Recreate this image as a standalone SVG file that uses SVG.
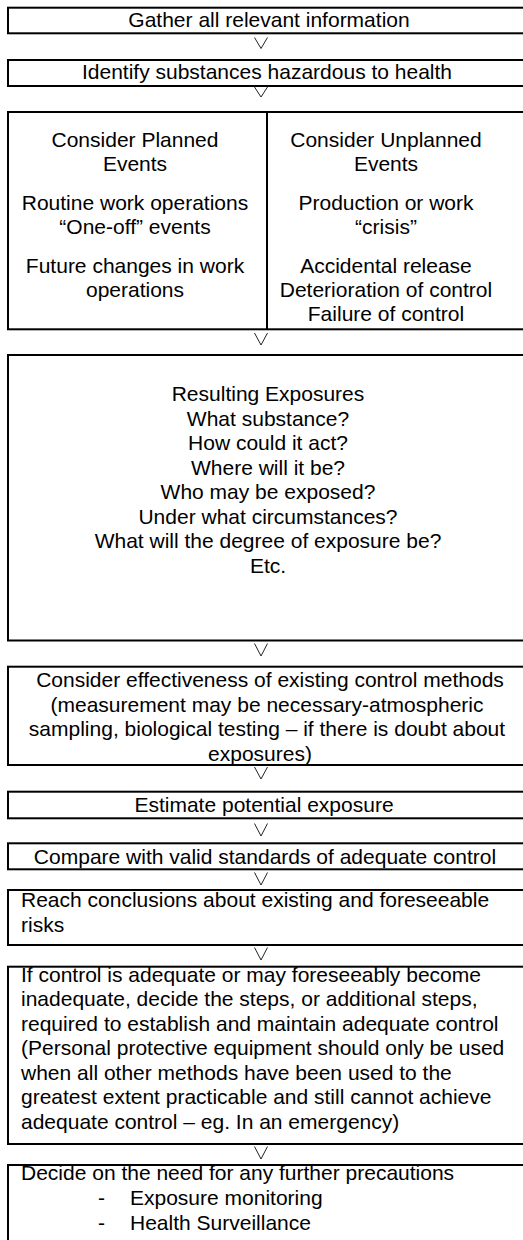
<svg xmlns="http://www.w3.org/2000/svg" width="523" height="1240" viewBox="0 0 523 1240">
<style>
.box{fill:#fff;stroke:#000;stroke-width:2}
.div{stroke:#000;stroke-width:2}
.c{stroke:#222;stroke-width:1;fill:none}
text{font-family:"Liberation Sans",Arial,sans-serif;font-size:21px;fill:#000}
.m{text-anchor:middle}
</style>
<rect width="523" height="1240" fill="#fff"/>
<g id="n1"><rect class="box" x="8" y="7.7" width="525" height="25.6"/><text class="m" x="269" y="27">Gather all relevant information</text></g>
<g id="n2"><rect class="box" x="8" y="60" width="525" height="26"/><text class="m" x="267" y="79">Identify substances hazardous to health</text></g>
<g id="n3"><rect class="box" x="8" y="112" width="525" height="217.3"/><line class="div" x1="267" y1="112" x2="267" y2="329.3"/>
<text class="m" x="135"><tspan x="135" y="147">Consider Planned</tspan><tspan x="135" y="171">Events</tspan><tspan x="135" y="210">Routine work operations</tspan><tspan x="135" y="234">“One-off” events</tspan><tspan x="135" y="273">Future changes in work</tspan><tspan x="135" y="297">operations</tspan></text>
<text class="m" x="386"><tspan x="386" y="147">Consider Unplanned</tspan><tspan x="386" y="171">Events</tspan><tspan x="386" y="210">Production or work</tspan><tspan x="386" y="234">“crisis”</tspan><tspan x="386" y="273">Accidental release</tspan><tspan x="386" y="297">Deterioration of control</tspan><tspan x="386" y="321">Failure of control</tspan></text></g>
<g id="n4"><rect class="box" x="8" y="355" width="525" height="285.5"/>
<text class="m" x="268"><tspan x="268" y="401">Resulting Exposures</tspan><tspan x="268" y="425.5">What substance?</tspan><tspan x="268" y="450">How could it act?</tspan><tspan x="268" y="474.5">Where will it be?</tspan><tspan x="268" y="499">Who may be exposed?</tspan><tspan x="268" y="523.5">Under what circumstances?</tspan><tspan x="268" y="548">What will the degree of exposure be?</tspan><tspan x="268" y="572.5">Etc.</tspan></text></g>
<g id="n5"><rect class="box" x="8" y="666.7" width="525" height="98.3"/>
<text class="m" x="267"><tspan x="270" y="687">Consider effectiveness of existing control methods</tspan><tspan x="267" y="711.5">(measurement may be necessary-atmospheric</tspan><tspan x="267" y="736">sampling, biological testing – if there is doubt about</tspan><tspan x="260" y="760.5">exposures)</tspan></text></g>
<g id="n6"><rect class="box" x="8" y="791.7" width="525" height="26.6"/><text class="m" x="264" y="812">Estimate potential exposure</text></g>
<g id="n7"><rect class="box" x="8" y="843.3" width="525" height="26"/><text class="m" x="265" y="864">Compare with valid standards of adequate control</text></g>
<g id="n8"><rect class="box" x="8" y="890" width="525" height="55"/>
<text x="21"><tspan x="21" y="907">Reach conclusions about existing and foreseeable</tspan><tspan x="21" y="931.5">risks</tspan></text></g>
<g id="n9"><rect class="box" x="8" y="966.7" width="525" height="177.3"/>
<text x="21"><tspan x="21" y="981.7">If control is adequate or may foreseeably become</tspan><tspan x="21" y="1006.2">inadequate, decide the steps, or additional steps,</tspan><tspan x="21" y="1030.7">required to establish and maintain adequate control</tspan><tspan x="21" y="1055.2">(Personal protective equipment should only be used</tspan><tspan x="21" y="1079.7">when all other methods have been used to the</tspan><tspan x="21" y="1104.2">greatest extent practicable and still cannot achieve</tspan><tspan x="21" y="1128.7">adequate control – eg. In an emergency)</tspan></text></g>
<g id="n10"><rect class="box" x="8" y="1165" width="525" height="100"/>
<text x="21" y="1180">Decide on the need for any further precautions</text>
<text x="98" y="1205">-</text><text x="130" y="1205">Exposure monitoring</text>
<text x="98" y="1229.5">-</text><text x="130" y="1229.5">Health Surveillance</text></g>
<g id="connectors">
<polyline class="c" points="254.5,37.5 261,48.5 267.5,37.5"/>
<polyline class="c" points="254.5,87 261,97 267.5,87"/>
<polyline class="c" points="254.5,333 261,345 267.5,333"/>
<polyline class="c" points="254.5,643.5 261,656 267.5,643.5"/>
<polyline class="c" points="254.5,767 261,779 267.5,767"/>
<polyline class="c" points="254.5,823.5 261,836 267.5,823.5"/>
<polyline class="c" points="254.5,872.5 261,885 267.5,872.5"/>
<polyline class="c" points="254.5,947.5 261,960 267.5,947.5"/>
<polyline class="c" points="254.5,1146.5 261,1159 267.5,1146.5"/>
</g>
</svg>
